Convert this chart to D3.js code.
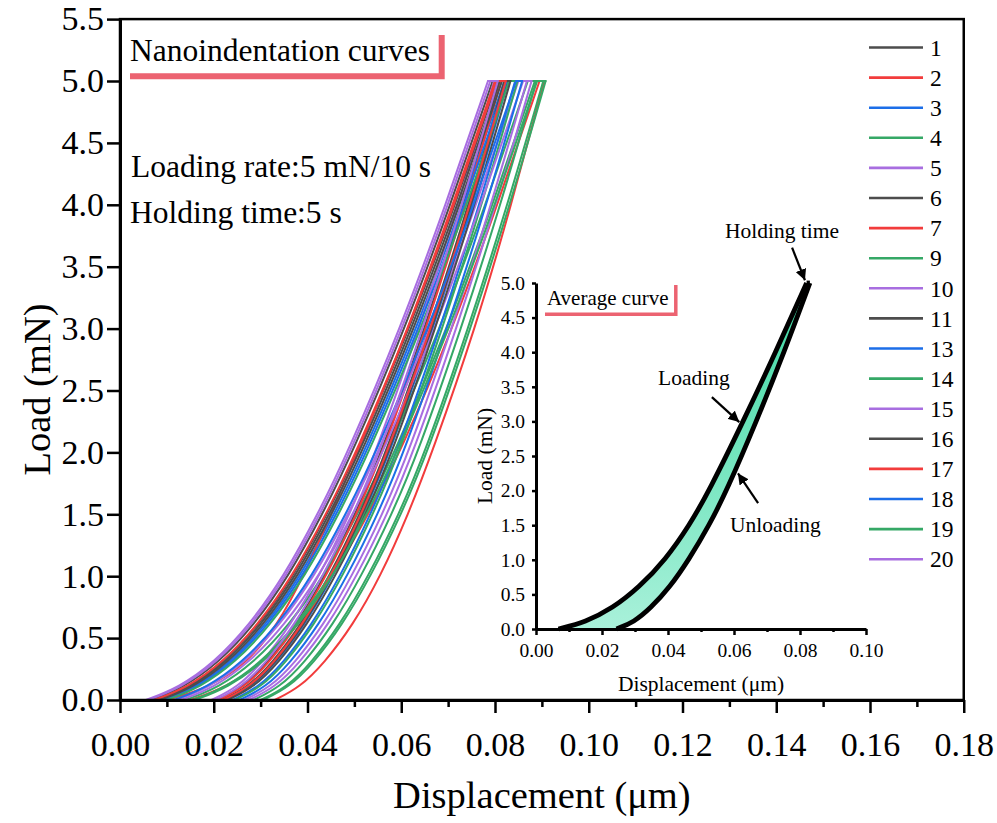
<!DOCTYPE html>
<html><head><meta charset="utf-8">
<script src="https://cdn.jsdelivr.net/npm/d3@7"></script>
<style>
html,body{margin:0;padding:0;background:#fff;}
svg{display:block;}
</style></head><body>
<svg id="chart" width="997" height="823"></svg>
<script>
// ---------------- DATA ----------------
const loads = [0, 0.1, 0.3, 0.6, 1, 1.5, 2, 3, 4, 5];   // mN
const seriesNames = ["1","2","3","4","5","6","7","9","10","11","13","14","15","16","17","18","19","20"];
const seriesColors = ["#4d4d4d","#f23c3c","#1c6ee8","#35a866","#a86ee0","#4d4d4d","#f23c3c","#35a866","#a86ee0","#4d4d4d","#1c6ee8","#35a866","#a86ee0","#4d4d4d","#f23c3c","#1c6ee8","#35a866","#a86ee0"];
// displacement (µm) of each loading branch at the loads above
const loadingDisp = [
  [0.0065,0.0135,0.0210,0.0285,0.0360,0.0432,0.0496,0.0608,0.0705,0.0795],
  [0.0150,0.0225,0.0305,0.0380,0.0455,0.0530,0.0598,0.0710,0.0805,0.0895],
  [0.0090,0.0160,0.0235,0.0310,0.0385,0.0457,0.0521,0.0633,0.0730,0.0820],
  [0.0140,0.0210,0.0285,0.0360,0.0435,0.0507,0.0571,0.0683,0.0780,0.0870],
  [0.0055,0.0125,0.0200,0.0275,0.0350,0.0422,0.0486,0.0598,0.0695,0.0785],
  [0.0075,0.0145,0.0220,0.0295,0.0370,0.0442,0.0506,0.0618,0.0715,0.0805],
  [0.0100,0.0190,0.0272,0.0335,0.0392,0.0450,0.0507,0.0615,0.0710,0.0800],
  [0.0155,0.0225,0.0300,0.0375,0.0450,0.0522,0.0586,0.0698,0.0795,0.0885],
  [0.0120,0.0190,0.0265,0.0340,0.0415,0.0487,0.0551,0.0663,0.0760,0.0850],
  [0.0080,0.0150,0.0225,0.0300,0.0375,0.0447,0.0511,0.0623,0.0720,0.0810],
  [0.0095,0.0165,0.0240,0.0315,0.0390,0.0462,0.0526,0.0638,0.0735,0.0825],
  [0.0100,0.0170,0.0245,0.0320,0.0395,0.0467,0.0531,0.0643,0.0740,0.0830],
  [0.0130,0.0200,0.0275,0.0350,0.0425,0.0497,0.0561,0.0673,0.0770,0.0860],
  [0.0085,0.0155,0.0230,0.0305,0.0380,0.0452,0.0516,0.0628,0.0725,0.0815],
  [0.0073,0.0143,0.0218,0.0293,0.0368,0.0440,0.0504,0.0616,0.0713,0.0803],
  [0.0115,0.0185,0.0260,0.0335,0.0410,0.0482,0.0546,0.0658,0.0755,0.0845],
  [0.0160,0.0230,0.0305,0.0380,0.0455,0.0527,0.0591,0.0703,0.0800,0.0890],
  [0.0060,0.0130,0.0205,0.0280,0.0355,0.0427,0.0491,0.0603,0.0700,0.0790]
];
// displacement (µm) of each unloading branch at the loads above
const unloadingDisp = [
  [0.0207,0.0262,0.0315,0.0375,0.0437,0.0502,0.0558,0.0650,0.0734,0.0810],
  [0.0330,0.0383,0.0436,0.0496,0.0556,0.0615,0.0666,0.0758,0.0835,0.0905],
  [0.0225,0.0280,0.0333,0.0393,0.0455,0.0520,0.0576,0.0668,0.0752,0.0828],
  [0.0285,0.0340,0.0393,0.0453,0.0515,0.0580,0.0636,0.0728,0.0812,0.0888],
  [0.0195,0.0250,0.0303,0.0363,0.0425,0.0490,0.0546,0.0638,0.0722,0.0798],
  [0.0217,0.0272,0.0325,0.0385,0.0447,0.0512,0.0568,0.0660,0.0744,0.0820],
  [0.0210,0.0265,0.0318,0.0378,0.0440,0.0505,0.0561,0.0653,0.0737,0.0813],
  [0.0300,0.0355,0.0408,0.0468,0.0530,0.0595,0.0651,0.0743,0.0827,0.0903],
  [0.0265,0.0320,0.0373,0.0433,0.0495,0.0560,0.0616,0.0708,0.0792,0.0868],
  [0.0223,0.0278,0.0331,0.0391,0.0453,0.0518,0.0574,0.0666,0.0750,0.0826],
  [0.0240,0.0295,0.0348,0.0408,0.0470,0.0535,0.0591,0.0683,0.0767,0.0843],
  [0.0245,0.0300,0.0353,0.0413,0.0475,0.0540,0.0596,0.0688,0.0772,0.0848],
  [0.0275,0.0330,0.0383,0.0443,0.0505,0.0570,0.0626,0.0718,0.0802,0.0878],
  [0.0230,0.0285,0.0338,0.0398,0.0460,0.0525,0.0581,0.0673,0.0757,0.0833],
  [0.0220,0.0275,0.0328,0.0388,0.0450,0.0515,0.0571,0.0663,0.0747,0.0823],
  [0.0255,0.0310,0.0363,0.0423,0.0485,0.0550,0.0606,0.0698,0.0782,0.0858],
  [0.0305,0.0360,0.0413,0.0473,0.0535,0.0600,0.0656,0.0748,0.0832,0.0908],
  [0.0203,0.0258,0.0311,0.0371,0.0433,0.0498,0.0554,0.0646,0.0730,0.0806]
];
// average curve (inset)
const avgLoading   = [0.0068,0.0150,0.0232,0.0312,0.0392,0.0465,0.0525,0.0628,0.0726,0.0820];
const avgUnloading = [0.0244,0.0297,0.0347,0.0405,0.0463,0.0525,0.0578,0.0668,0.0752,0.0830];

const xTicks = [0,0.02,0.04,0.06,0.08,0.10,0.12,0.14,0.16,0.18];
const xMinorTicks = [0.01,0.03,0.05,0.07,0.09,0.11,0.13,0.15,0.17];
const yTicks = [0,0.5,1,1.5,2,2.5,3,3.5,4,4.5,5,5.5];
const insetXTicks = [0,0.02,0.04,0.06,0.08,0.10];
const insetXMinor = [0.01,0.03,0.05,0.07,0.09];
const insetYTicks = [0,0.5,1,1.5,2,2.5,3,3.5,4,4.5,5];

// ---------------- DRAW ----------------
const SERIF = '"Liberation Serif","Times New Roman",serif';
const svg = d3.select("#chart").attr("font-family", SERIF);
svg.append("rect").attr("width",997).attr("height",823).attr("fill","#fff");

const x = d3.scaleLinear().domain([0,0.18]).range([120,963.75]);
const y = d3.scaleLinear().domain([0,5.5]).range([700,19.1]);

const lineGen = (sx, sy) => d3.line().x(d=>sx(d[0])).y(d=>sy(d[1])).curve(d3.curveBasis);
const mainLine = lineGen(x,y);
const gCurves = svg.append("g").attr("fill","none").attr("stroke-width",2).attr("stroke-linecap","round").attr("stroke-linejoin","round");
seriesNames.forEach((nm,i)=>{
  const lp = loads.map((L,k)=>[loadingDisp[i][k],L]);
  const up = loads.map((L,k)=>[unloadingDisp[i][k],L]);
  const g = gCurves.append("g").attr("stroke",seriesColors[i]);
  g.append("path").attr("d",mainLine(lp));
  g.append("path").attr("d",mainLine(up));
  g.append("path").attr("d",d3.line().x(d=>x(d[0])).y(d=>y(d[1]))([lp[lp.length-1],up[up.length-1]]));
});

// frame
svg.append("rect").attr("x",x(0)).attr("y",y(5.5)).attr("width",x(0.18)-x(0)).attr("height",y(0)-y(5.5))
  .attr("fill","none").attr("stroke","#000").attr("stroke-width",2.5);

function styleAxis(g, fs){
  g.attr("font-family",SERIF).attr("font-size",fs);
  g.selectAll("text").attr("fill","#000");
}
const gx = svg.append("g").attr("transform",`translate(0,${y(0)})`)
  .call(d3.axisBottom(x).tickValues(xTicks).tickFormat(d3.format(".2f")).tickSize(13).tickPadding(19).tickSizeOuter(0));
styleAxis(gx,34);
gx.select(".domain").attr("stroke-width",3);
gx.selectAll(".tick line").attr("stroke-width",2.5);
const gxm = svg.append("g").attr("transform",`translate(0,${y(0)})`)
  .call(d3.axisBottom(x).tickValues(xMinorTicks).tickFormat("").tickSize(7).tickSizeOuter(0));
gxm.select(".domain").remove();
gxm.selectAll(".tick line").attr("stroke-width",2.5);

const gy = svg.append("g").attr("transform",`translate(${x(0)},0)`)
  .call(d3.axisLeft(y).tickValues(yTicks).tickFormat(d3.format(".1f")).tickSize(13).tickPadding(3).tickSizeOuter(0));
styleAxis(gy,34);
gy.select(".domain").attr("stroke-width",3);
gy.selectAll(".tick line").attr("stroke-width",2.5);

svg.append("text").attr("x",(x(0)+x(0.18))/2).attr("y",808).attr("text-anchor","middle")
  .attr("font-size",38.5).text("Displacement (\u03bcm)");
svg.append("text").attr("transform",`translate(50,${(y(0)+y(5.5))/2+30}) rotate(-90)`).attr("text-anchor","middle")
  .attr("font-size",38.5).text("Load (mN)");

svg.append("text").attr("x",130).attr("y",61).attr("font-size",31.5).text("Nanoindentation curves");
svg.append("path").attr("d","M130,76.3H441.7V35").attr("fill","none").attr("stroke","#ec6371").attr("stroke-width",6).attr("stroke-linejoin","miter");
svg.append("text").attr("x",131).attr("y",177).attr("font-size",31.5).text("Loading rate:5 mN/10 s");
svg.append("text").attr("x",130).attr("y",223).attr("font-size",31.5).text("Holding time:5 s");

// legend
const legend = svg.append("g");
seriesNames.forEach((nm,i)=>{
  const ly = 47.5 + i*30.1;
  legend.append("line").attr("x1",869).attr("x2",923).attr("y1",ly).attr("y2",ly)
    .attr("stroke",seriesColors[i]).attr("stroke-width",2.6);
  legend.append("text").attr("x",930).attr("y",ly).attr("dy","0.35em").attr("font-size",23.5).text(nm);
});

// ---------------- INSET ----------------
const xi = d3.scaleLinear().domain([0,0.10]).range([536,866]);
const yi = d3.scaleLinear().domain([0,5]).range([629,283]);
const defs = svg.append("defs");
const grad = defs.append("linearGradient").attr("id","fillg").attr("x1",0).attr("x2",0).attr("y1",0).attr("y2",1);
grad.append("stop").attr("offset","0%").attr("stop-color","#3dd8a2");
grad.append("stop").attr("offset","100%").attr("stop-color","#a9f1da");
defs.append("marker").attr("id","arr").attr("viewBox","0 0 10 10").attr("refX",10).attr("refY",5)
  .attr("markerWidth",5).attr("markerHeight",5).attr("orient","auto-start-reverse").attr("markerUnits","strokeWidth")
  .append("path").attr("d","M0,0L10,5L0,10z").attr("fill","#000");

const inset = svg.append("g");
const area = d3.area().y(d=>yi(d[0])).x0(d=>xi(d[1])).x1(d=>xi(d[2])).curve(d3.curveBasis);
const avgPts = loads.map((L,k)=>[L,avgLoading[k],avgUnloading[k]]);
inset.append("path").attr("d",area(avgPts)).attr("fill","url(#fillg)");
const insetLine = lineGen(xi,yi);
const ig = inset.append("g").attr("fill","none").attr("stroke","#000").attr("stroke-width",4.8).attr("stroke-linejoin","round");
const alp = loads.map((L,k)=>[avgLoading[k],L]);
const aup = loads.map((L,k)=>[avgUnloading[k],L]);
ig.append("path").attr("d",insetLine(alp));
ig.append("path").attr("d",insetLine(aup));
ig.append("path").attr("d",d3.line().x(d=>xi(d[0])).y(d=>yi(d[1]))([alp[alp.length-1],aup[aup.length-1]]));

const gxi = inset.append("g").attr("transform",`translate(0,${yi(0)})`)
  .call(d3.axisBottom(xi).tickValues(insetXTicks).tickFormat(d3.format(".2f")).tickSize(6).tickPadding(8).tickSizeOuter(0));
styleAxis(gxi,19.5);
gxi.select(".domain").attr("stroke-width",3);
gxi.selectAll(".tick line").attr("stroke-width",2.5);
const gxim = inset.append("g").attr("transform",`translate(0,${yi(0)})`)
  .call(d3.axisBottom(xi).tickValues(insetXMinor).tickFormat("").tickSize(3).tickSizeOuter(0));
gxim.select(".domain").remove();
gxim.selectAll(".tick line").attr("stroke-width",2.5);
const gyi = inset.append("g").attr("transform",`translate(${xi(0)},0)`)
  .call(d3.axisLeft(yi).tickValues(insetYTicks).tickFormat(d3.format(".1f")).tickSize(4).tickPadding(7).tickSizeOuter(0));
styleAxis(gyi,19.5);
gyi.select(".domain").attr("stroke-width",3);
gyi.selectAll(".tick line").attr("stroke-width",2.5);

inset.append("text").attr("x",(xi(0)+xi(0.10))/2).attr("y",691).attr("text-anchor","middle").attr("font-size",21.5).text("Displacement (\u03bcm)");
inset.append("text").attr("transform",`translate(492,${(yi(0)+yi(5))/2}) rotate(-90)`).attr("text-anchor","middle").attr("font-size",21.5).text("Load (mN)");
inset.append("text").attr("x",547).attr("y",305).attr("font-size",21).text("Average curve");
inset.append("path").attr("d","M545,314.3H675.8V285").attr("fill","none").attr("stroke","#ec6371").attr("stroke-width",3.5);

function arrow(p0,p1){
  inset.append("line").attr("x1",xi(p0[0])).attr("y1",yi(p0[1])).attr("x2",xi(p1[0])).attr("y2",yi(p1[1]))
    .attr("stroke","#000").attr("stroke-width",2.2).attr("marker-end","url(#arr)");
}
arrow([0.0776,5.51],[0.0815,5.04]);
arrow([0.0533,3.35],[0.0616,2.99]);
arrow([0.0673,1.82],[0.0612,2.25]);
inset.append("text").attr("x",725).attr("y",238).attr("font-size",21.5).text("Holding time");
inset.append("text").attr("x",658).attr("y",385).attr("font-size",21.5).text("Loading");
inset.append("text").attr("x",730).attr("y",532).attr("font-size",21.5).text("Unloading");
</script>
</body></html>
